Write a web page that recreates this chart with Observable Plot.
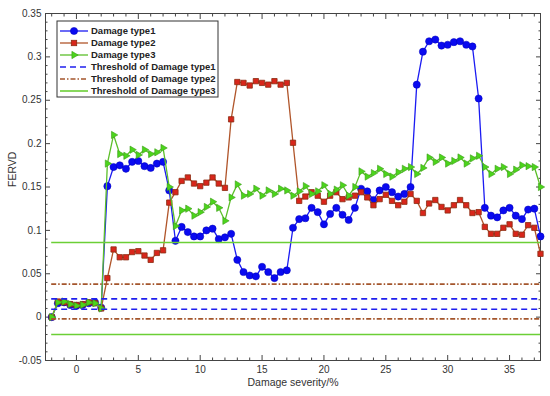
<!DOCTYPE html>
<html>
<head>
<meta charset="utf-8">
<script src="https://cdn.jsdelivr.net/npm/d3@7"></script>
<script src="https://cdn.jsdelivr.net/npm/@observablehq/plot@0.6"></script>
<style>
  html, body { margin: 0; padding: 0; background: #fff; }
  #chart { width: 550px; height: 396px; }
</style>
</head>
<body>
<div id="chart"></div>
<script>
// ---- data ----
const severity = [-2,-1.5,-1,-0.5,0,0.5,1,1.5,2,2.5,3,3.5,4,4.5,5,5.5,6,6.5,7,7.5,8,8.5,9,9.5,10,10.5,11,11.5,12,12.5,13,13.5,14,14.5,15,15.5,16,16.5,17,17.5,18,18.5,19,19.5,20,20.5,21,21.5,22,22.5,23,23.5,24,24.5,25,25.5,26,26.5,27,27.5,28,28.5,29,29.5,30,30.5,31,31.5,32,32.5,33,33.5,34,34.5,35,35.5,36,36.5,37,37.5];

const type1 = [0,0.016,0.017,0.014,0.013,0.014,0.016,0.017,0.011,0.151,
  0.173,0.175,0.171,0.179,0.18,0.174,0.172,0.177,0.179,0.146,
  0.088,0.104,0.098,0.093,0.093,0.1,0.102,0.09,0.092,0.096,
  0.066,0.052,0.048,0.047,0.058,0.052,0.045,0.052,0.054,0.103,
  0.113,0.114,0.126,0.121,0.107,0.119,0.126,0.118,0.112,0.126,
  0.148,0.145,0.135,0.146,0.15,0.144,0.139,0.142,0.15,0.268,
  0.306,0.318,0.32,0.313,0.314,0.317,0.318,0.314,0.312,0.252,
  0.126,0.117,0.115,0.123,0.126,0.117,0.113,0.124,0.125,0.093];

const type2 = [0,0.018,0.017,0.015,0.014,0.015,0.017,0.016,0.01,0.045,
  0.078,0.069,0.069,0.075,0.076,0.071,0.066,0.074,0.077,0.132,
  0.144,0.157,0.161,0.154,0.151,0.155,0.161,0.154,0.149,0.228,
  0.271,0.27,0.267,0.272,0.27,0.268,0.272,0.268,0.27,0.201,
  0.134,0.139,0.144,0.14,0.133,0.14,0.144,0.136,0.138,0.14,
  0.144,0.138,0.129,0.136,0.141,0.134,0.129,0.133,0.142,0.134,
  0.12,0.131,0.135,0.127,0.123,0.129,0.135,0.129,0.12,0.121,
  0.104,0.096,0.096,0.103,0.107,0.096,0.095,0.106,0.103,0.073];

const type3 = [0,0.017,0.018,0.015,0.013,0.014,0.017,0.016,0.01,0.177,
  0.21,0.188,0.186,0.193,0.187,0.193,0.188,0.19,0.195,0.15,
  0.105,0.123,0.125,0.117,0.121,0.127,0.133,0.126,0.111,0.138,
  0.153,0.14,0.142,0.148,0.14,0.146,0.142,0.148,0.146,0.14,
  0.145,0.151,0.142,0.145,0.152,0.142,0.147,0.152,0.14,0.15,
  0.168,0.162,0.166,0.171,0.165,0.162,0.167,0.171,0.173,0.165,
  0.172,0.184,0.179,0.184,0.177,0.18,0.184,0.177,0.183,0.186,
  0.173,0.165,0.171,0.173,0.165,0.17,0.175,0.174,0.173,0.15];

const seriesNames = ["Damage type1", "Damage type2", "Damage type3"];
const thresholdNames = ["Threshold of Damage type1", "Threshold of Damage type2", "Threshold of Damage type3"];
const thresholdUpper = [0.021, 0.038, 0.086];
const thresholdLower = [0.009, -0.002, -0.02];

const xTicks = [0, 5, 10, 15, 20, 25, 30, 35];
const xMinorTicks = [-2,-1,1,2,3,4,6,7,8,9,11,12,13,14,16,17,18,19,21,22,23,24,26,27,28,29,31,32,33,34,36,37];
const yTicks = [-0.05, 0, 0.05, 0.1, 0.15, 0.2, 0.25, 0.3, 0.35];
const yTickLabels = ["-0.05", "0", "0.05", "0.1", "0.15", "0.2", "0.25", "0.3", "0.35"];
const yMinorTicks = [-0.04,-0.03,-0.02,-0.01,0.01,0.02,0.03,0.04,0.06,0.07,0.08,0.09,0.11,0.12,0.13,0.14,0.16,0.17,0.18,0.19,0.21,0.22,0.23,0.24,0.26,0.27,0.28,0.29,0.31,0.32,0.33,0.34];

// ---- styles ----
const C1 = {line: "#1b1bf2", fill: "#0a0af0", stroke: "#0000b8"};
const C2 = {line: "#b0552a", fill: "#d8261b", stroke: "#8a2c12"};
const C3 = {line: "#5cbf2a", fill: "#4cd41c", stroke: "#3c9e1a"};
const T1 = {stroke: "#2020ee", dash: "6,4"};
const T2 = {stroke: "#a4552c", dash: "5,2,1.5,2"};
const T3 = {stroke: "#6bcf36", dash: null};

const rows = (vals) => severity.map((x, i) => ({x, y: vals[i]}));
const d1 = rows(type1), d2 = rows(type2), d3r = rows(type3);
const thr = (i) => [{y: thresholdUpper[i]}, {y: thresholdLower[i]}];
const xStart = severity[0], xEnd = severity[severity.length - 1];

const labelFmt = (d) => yTickLabels[yTicks.findIndex(t => Math.abs(t - d) < 1e-9)];

const plot = Plot.plot({
  width: 550,
  height: 396,
  marginLeft: 45,
  marginRight: 10,
  marginTop: 13,
  marginBottom: 36,
  x: {domain: [-2.5, 37.5]},
  y: {domain: [-0.05, 0.35]},
  style: {fontFamily: "'Liberation Sans', Arial, sans-serif", fontSize: "10px", color: "#333", background: "#fff"},
  marks: [
    // axes: ticks inside on all four sides
    Plot.axisX({anchor: "bottom", ticks: xTicks, tickSize: -5, tickPadding: 10, tickFormat: d => String(d), label: null, stroke: "#444", fill: "#333"}),
    Plot.axisX({anchor: "bottom", ticks: xMinorTicks, tickSize: -2.5, tickFormat: () => "", label: null, stroke: "#444"}),
    Plot.axisX({anchor: "top", ticks: xTicks, tickSize: -5, tickFormat: () => "", label: null, stroke: "#444"}),
    Plot.axisX({anchor: "top", ticks: xMinorTicks, tickSize: -2.5, tickFormat: () => "", label: null, stroke: "#444"}),
    Plot.axisY({anchor: "left", ticks: yTicks, tickSize: -5, tickPadding: 9, tickFormat: labelFmt, label: null, stroke: "#444", fill: "#333"}),
    Plot.axisY({anchor: "left", ticks: yMinorTicks, tickSize: -2.5, tickFormat: () => "", label: null, stroke: "#444"}),
    Plot.axisY({anchor: "right", ticks: yTicks, tickSize: -5, tickFormat: () => "", label: null, stroke: "#444"}),
    Plot.axisY({anchor: "right", ticks: yMinorTicks, tickSize: -2.5, tickFormat: () => "", label: null, stroke: "#444"}),
    Plot.frame({stroke: "#444", strokeWidth: 1}),
    // series 1
    Plot.line(d1, {x: "x", y: "y", stroke: C1.line, strokeWidth: 1.3}),
    Plot.dot(d1, {x: "x", y: "y", r: 3.6, symbol: "circle", fill: C1.fill, stroke: C1.stroke, strokeWidth: 0.5}),
    // series 2
    Plot.line(d2, {x: "x", y: "y", stroke: C2.line, strokeWidth: 1.3}),
    Plot.dot(d2, {x: "x", y: "y", r: 3.0, symbol: "square", fill: C2.fill, stroke: C2.stroke, strokeWidth: 0.8}),
    // series 3
    Plot.line(d3r, {x: "x", y: "y", stroke: C3.line, strokeWidth: 1.3}),
    Plot.dot(d3r, {x: "x", y: "y", r: 2.7, symbol: "triangle", rotate: 90, fill: C3.fill, stroke: C3.stroke, strokeWidth: 0.6}),
    // thresholds
    Plot.ruleY(thr(0), {y: "y", x1: xStart, x2: xEnd, stroke: T1.stroke, strokeWidth: 1.6, strokeDasharray: T1.dash}),
    Plot.ruleY(thr(1), {y: "y", x1: xStart, x2: xEnd, stroke: T2.stroke, strokeWidth: 1.6, strokeDasharray: T2.dash}),
    Plot.ruleY(thr(2), {y: "y", x1: xStart, x2: xEnd, stroke: T3.stroke, strokeWidth: 1.6}),
    // axis titles
    Plot.text(["Damage severity/%"], {frameAnchor: "bottom", dy: 25, text: d => d, fontSize: 10.5, fill: "#333"}),
    Plot.text(["FERVD"], {frameAnchor: "left", dx: -33, rotate: -90, text: d => d, fontSize: 10.5, fill: "#333"})
  ]
});

document.getElementById("chart").appendChild(plot);

// ---- legend (inside the plot area, top-left) ----
const svg = d3.select(plot);
const lg = svg.append("g").attr("class", "legend").attr("text-anchor", "start");
const box = {x: 57, y: 21, w: 161, h: 76};
lg.append("rect").attr("x", box.x).attr("y", box.y).attr("width", box.w).attr("height", box.h)
  .attr("fill", "#fff").attr("stroke", "#333").attr("stroke-width", 1);
const legendItems = [
  {name: seriesNames[0], stroke: C1.line, dash: null, marker: "circle", c: C1},
  {name: seriesNames[1], stroke: C2.line, dash: null, marker: "square", c: C2},
  {name: seriesNames[2], stroke: C3.line, dash: null, marker: "triangle", c: C3},
  {name: thresholdNames[0], stroke: T1.stroke, dash: T1.dash, marker: null},
  {name: thresholdNames[1], stroke: T2.stroke, dash: T2.dash, marker: null},
  {name: thresholdNames[2], stroke: T3.stroke, dash: null, marker: null}
];
legendItems.forEach((it, i) => {
  const cy = 31 + i * 12;
  lg.append("line").attr("x1", 60).attr("x2", 88).attr("y1", cy).attr("y2", cy)
    .attr("stroke", it.stroke).attr("stroke-width", it.marker ? 1.3 : 1.6)
    .attr("stroke-dasharray", it.dash);
  if (it.marker === "circle") {
    lg.append("circle").attr("cx", 74).attr("cy", cy).attr("r", 3.6).attr("fill", it.c.fill).attr("stroke", it.c.stroke).attr("stroke-width", 0.5);
  } else if (it.marker === "square") {
    lg.append("rect").attr("x", 71.3).attr("y", cy - 2.7).attr("width", 5.4).attr("height", 5.4).attr("fill", it.c.fill).attr("stroke", it.c.stroke).attr("stroke-width", 0.8);
  } else if (it.marker === "triangle") {
    lg.append("path").attr("d", d3.symbol(d3.symbolTriangle, Math.PI * 2.7 * 2.7)())
      .attr("transform", `translate(74,${cy}) rotate(90)`)
      .attr("fill", it.c.fill).attr("stroke", it.c.stroke).attr("stroke-width", 0.6);
  }
  lg.append("text").attr("x", 91).attr("y", cy).attr("dy", "0.35em")
    .attr("text-anchor", "start")
    .attr("font-family", "'Liberation Sans', Arial, sans-serif").attr("font-weight", "bold")
    .attr("font-size", "9.5px").attr("fill", "#222").text(it.name);
});
</script>
</body>
</html>
